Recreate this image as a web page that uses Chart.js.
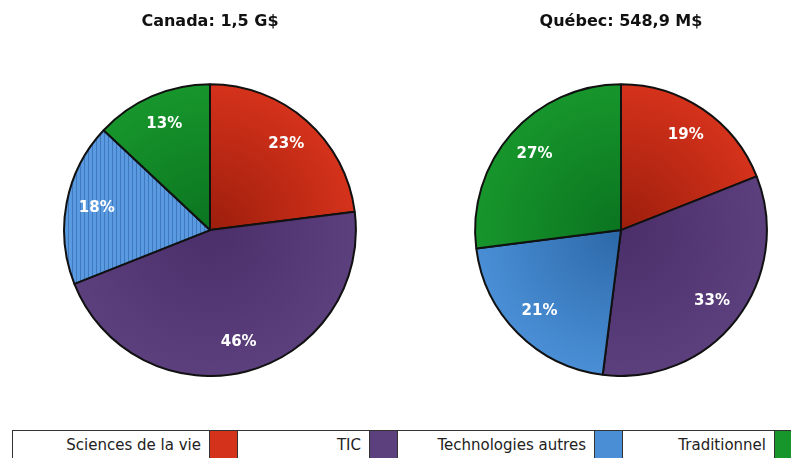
<!DOCTYPE html>
<html>
<head>
<meta charset="utf-8">
<script src="https://cdn.jsdelivr.net/npm/chart.js@4/dist/chart.umd.min.js"></script>
<style>
  body { margin: 0; background: #fff; width: 791px; height: 458px; overflow: hidden; position: relative; font-family: "DejaVu Sans", Verdana, sans-serif; }
  .pie { position: absolute; top: 0; width: 300px; height: 377px; }
  #legende { position: absolute; left: 12px; top: 430px; width: 800px; height: 40px; border-top: 1px solid #333; border-left: 1px solid #333; display: flex; }
  .item { display: flex; justify-content: flex-end; height: 40px; }
  .item span { font-size: 15px; color: #222; padding: 5px 8px 0 0; }
  .item i { display: block; width: 27px; height: 40px; border-left: 1px solid #333; border-right: 1px solid #333; }
</style>
</head>
<body>
<div class="pie" style="left:60px"><canvas id="canada"></canvas></div>
<div class="pie" style="left:471px"><canvas id="quebec"></canvas></div>
<div id="legende"></div>
<script>
// Répartition par secteur (%)
const secteurs = ['Sciences de la vie', 'TIC', 'Technologies autres', 'Traditionnel'];
const canadaValeurs = [23, 46, 18, 13];
const quebecValeurs = [19, 33, 21, 27];
const titreCanada = 'Canada: 1,5 G$';
const titreQuebec = 'Québec: 548,9 M$';

const couleurs = ['#d5321b', '#5c3f7d', '#4a8fd6', '#17962c'];
const couleursFoncees = ['#9c1e0c', '#4a2f6a', '#2c68a8', '#0b7420'];
const largeursLegende = [225, 160, 225, 180];

// dégradé radial pour chaque part
function degrade(context) {
    const chart = context.chart;
    const zone = chart.chartArea;
    if (!zone) return couleurs[context.dataIndex];
    // part rayée (bleu du Canada)
    if (chart.canvas.id === 'canada' && context.dataIndex === 2) {
        const c = document.createElement('canvas');
        c.width = 4; c.height = 4;
        const p = c.getContext('2d');
        p.fillStyle = '#5a9ae0';
        p.fillRect(0, 0, 4, 4);
        p.fillStyle = '#3f78bd';
        p.fillRect(0, 0, 1, 4);
        return chart.ctx.createPattern(c, 'repeat');
    }
    const cx = (zone.left + zone.right) / 2;
    const cy = (zone.top + zone.bottom) / 2;
    const r = Math.min(zone.width, zone.height) / 2;
    const g = chart.ctx.createRadialGradient(cx, cy, 0, cx, cy, r);
    g.addColorStop(0, couleursFoncees[context.dataIndex]);
    g.addColorStop(1, couleurs[context.dataIndex]);
    return g;
}

// étiquettes de pourcentage dans les parts
const etiquettes = {
    id: 'etiquettes',
    afterDatasetsDraw(chart) {
        const ctx = chart.ctx;
        const meta = chart.getDatasetMeta(0);
        ctx.save();
        ctx.font = 'bold 15px "DejaVu Sans", Verdana, sans-serif';
        ctx.fillStyle = '#fff';
        ctx.textAlign = 'center';
        ctx.textBaseline = 'middle';
        meta.data.forEach((arc, i) => {
            const mid = (arc.startAngle + arc.endAngle) / 2;
            const d = arc.outerRadius * 0.79;
            ctx.fillText(chart.data.datasets[0].data[i] + '%', arc.x + Math.cos(mid) * d, arc.y + Math.sin(mid) * d);
        });
        ctx.restore();
    }
};

function creerPie(id, titre, valeurs) {
    new Chart(document.getElementById(id), {
        type: 'pie',
        data: {
            labels: secteurs,
            datasets: [{
                data: valeurs,
                backgroundColor: degrade,
                borderColor: '#111',
                borderWidth: 2
            }]
        },
        options: {
            responsive: true,
            maintainAspectRatio: false,
            animation: false,
            layout: { padding: 0 },
            plugins: {
                legend: { display: false },
                tooltip: { enabled: false },
                title: {
                    display: true,
                    text: titre,
                    color: '#111',
                    font: { family: '"DejaVu Sans", Verdana, sans-serif', size: 16, weight: 'bold' },
                    padding: { top: 12, bottom: 52 }
                }
            }
        },
        plugins: [etiquettes]
    });
}

creerPie('canada', titreCanada, canadaValeurs);
creerPie('quebec', titreQuebec, quebecValeurs);

// légende en bas
const legende = document.getElementById('legende');
secteurs.forEach((s, i) => {
    const item = document.createElement('div');
    item.className = 'item';
    item.style.width = largeursLegende[i] + 'px';
    item.innerHTML = '<span>' + s + '</span><i style="background:' + couleurs[i] + '"></i>';
    legende.appendChild(item);
});
</script>
</body>
</html>
